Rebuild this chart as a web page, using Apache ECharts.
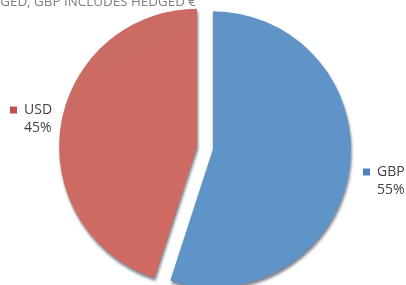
<!DOCTYPE html>
<html>
<head>
<meta charset="utf-8">
<script src="https://cdn.jsdelivr.net/npm/echarts@6/dist/echarts.min.js"></script>
<style>
  html, body { margin: 0; padding: 0; background: #fff; }
  #chart { width: 406px; height: 285px; }
</style>
</head>
<body>
<div id="chart"></div>
<script>
// data
const currencies = ["GBP", "USD"];
const shares = [55, 45];
const sliceColors = ["#5b8fc3", "#c8665e"];
const keyColors = ["#4f81bd", "#c0504d"];

// label anchor points (styling only)
const labelSpots = [
  { left: 363, top: 163 },
  { left: 10, top: 101 }
];

const chart = echarts.init(document.getElementById("chart"), null, { renderer: "canvas" });

const pieData = currencies.map((name, i) => ({
  name: name,
  value: shares[i],
  selected: true,
  itemStyle: {
    color: new echarts.graphic.LinearGradient(0, 0, 1, 1, [
      { offset: 0, color: echarts.color.lift(sliceColors[i], 0.04) },
      { offset: 1, color: echarts.color.lift(sliceColors[i], -0.04) }
    ])
  }
}));

// data labels with a legend key, one per slice
const sliceLabels = currencies.map((name, i) => ({
  left: labelSpots[i].left,
  top: labelSpots[i].top,
  padding: 0,
  text: "{m|}{t|" + name + "}\n{s|}{t|" + shares[i] + "%}",
  textStyle: {
    fontWeight: "normal",
    rich: {
      m: { width: 7, height: 7, backgroundColor: keyColors[i] },
      s: { width: 7, height: 7 },
      t: {
        fontSize: 14, fontWeight: "normal", color: "#404040",
        padding: [0, 0, 0, 7], lineHeight: 18, fontFamily: "Open Sans"
      }
    }
  }
}));

chart.setOption({
  animation: false,
  title: [{
    text: "USD UNHEDGED, GBP INCLUDES HEDGED €",
    right: 205,
    top: -9,
    textStyle: { fontSize: 13.4, fontWeight: "normal", color: "#808080", fontFamily: "Open Sans" }
  }].concat(sliceLabels),
  series: [{
    type: "pie",
    center: [205, 148],
    radius: 138,
    startAngle: 90,
    clockwise: true,
    selectedMode: "multiple",
    selectedOffset: 8,
    emphasis: { disabled: true },
    itemStyle: {
      shadowBlur: 3,
      shadowOffsetY: 3,
      shadowOffsetX: 1,
      shadowColor: "rgba(20,30,50,0.55)"
    },
    label: { show: false },
    labelLine: { show: false },
    data: pieData
  }]
});
</script>
</body>
</html>
